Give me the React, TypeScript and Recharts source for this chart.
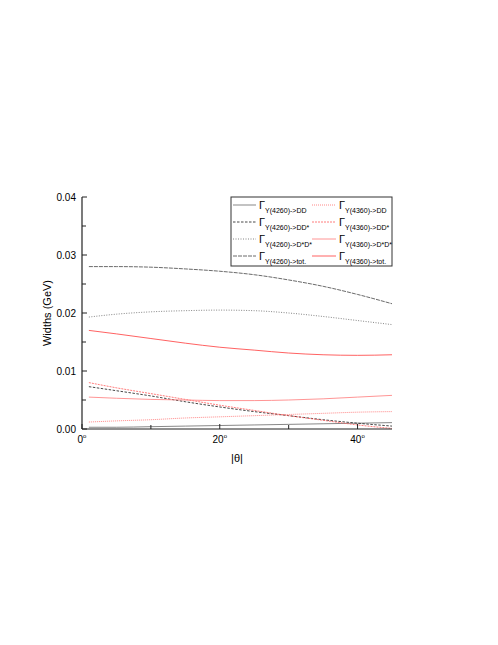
import * as React from "react"
import { LineChart, Line, XAxis, YAxis } from "recharts"

const theta = [1, 5, 10, 15, 20, 25, 30, 35, 40, 45]
const y4260DD = [0.0003, 0.0003, 0.0004, 0.0005, 0.0006, 0.0007, 0.0008, 0.0009, 0.001, 0.0011]
const y4260DDs = [0.0073, 0.0066, 0.0057, 0.0047, 0.0038, 0.003, 0.0023, 0.0016, 0.001, 0.0005]
const y4260DsDs = [0.0193, 0.0198, 0.0202, 0.0204, 0.0205, 0.0204, 0.02, 0.0194, 0.0187, 0.018]
const y4260Tot = [0.028, 0.028, 0.0279, 0.0276, 0.0272, 0.0266, 0.0257, 0.0246, 0.0232, 0.0216]
const y4360DD = [0.0012, 0.0014, 0.0016, 0.0019, 0.0021, 0.0023, 0.0025, 0.0027, 0.0029, 0.003]
const y4360DDs = [0.008, 0.0071, 0.0061, 0.0051, 0.0041, 0.0032, 0.0023, 0.0015, 0.0007, 0.0001]
const y4360DsDs = [0.0055, 0.0053, 0.0051, 0.005, 0.0049, 0.0049, 0.005, 0.0052, 0.0055, 0.0058]
const y4360Tot = [0.017, 0.0164, 0.0156, 0.0148, 0.0141, 0.0136, 0.0131, 0.0128, 0.0127, 0.0128]

const xTicks = [0, 10, 20, 30, 40]
const yTicks = [0, 0.005, 0.01, 0.015, 0.02, 0.025, 0.03, 0.035, 0.04]

const FONT = '"Liberation Sans", Arial, sans-serif'

const series = [
    { key: "a", sub: "Y(4260)->DD", color: "#555", dash: undefined, w: 0.7, values: y4260DD },
    { key: "b", sub: "Y(4260)->DD*", color: "#333", dash: "2.5 1.5", w: 0.9, values: y4260DDs },
    { key: "c", sub: "Y(4260)->D*D*", color: "#777", dash: "1 1.5", w: 0.9, values: y4260DsDs },
    { key: "d", sub: "Y(4260)->tot.", color: "#444", dash: "4 1", w: 0.8, values: y4260Tot },
    { key: "e", sub: "Y(4360)->DD", color: "#ff6a6a", dash: "1 1", w: 0.8, values: y4360DD },
    { key: "f", sub: "Y(4360)->DD*", color: "#ff5a5a", dash: "2 1", w: 0.8, values: y4360DDs },
    { key: "g", sub: "Y(4360)->D*D*", color: "#ff7a7a", dash: undefined, w: 0.8, values: y4360DsDs },
    { key: "h", sub: "Y(4360)->tot.", color: "#ff3a3a", dash: undefined, w: 0.8, values: y4360Tot },
]

const data = theta.map((t, i) => {
    const row: Record<string, number> = { t }
    series.forEach(s => { row[s.key] = s.values[i] })
    return row
})

function XTick(props: any) {
    const { x, y, payload } = props
    const major = payload.value % 20 === 0
    return (
        <g>
            <line x1={x} x2={x} y1={y} y2={y - (major ? 5 : 4)} stroke="#222" strokeWidth={1} />
            {major && (
                <text x={x} y={y + 14} textAnchor="middle" fontSize={10} fontFamily={FONT} fill="#000">
                    {payload.value}
                    <tspan fontSize={6} dy={-5}>o</tspan>
                </text>
            )}
        </g>
    )
}

function YTick(props: any) {
    const { x, y, payload } = props
    const v = payload.value
    const major = Math.abs(Math.round(v * 100) - v * 100) < 1e-6
    return (
        <g>
            <line x1={x} x2={x + (major ? 5 : 4)} y1={y} y2={y} stroke="#222" strokeWidth={1} />
            {major && (
                <text x={x - 6} y={y + 4} textAnchor="end" fontSize={10} fontFamily={FONT} fill="#000">
                    {v.toFixed(2)}
                </text>
            )}
        </g>
    )
}

function LegendBox() {
    const rows = [205, 222, 239, 256]
    const cols = [{ x1: 233, x2: 256, gx: 259 }, { x1: 312, x2: 336, gx: 339 }]
    return (
        <svg width={498} height={645} style={{ position: "absolute", left: 0, top: 0, pointerEvents: "none" }}>
            <rect x={231} y={197} width={161} height={69} fill="#fff" stroke="#333" strokeWidth={1} />
            {series.map((s, i) => {
                const c = cols[Math.floor(i / 4)]
                const ry = rows[i % 4]
                return (
                    <g key={s.key}>
                        <line x1={c.x1} x2={c.x2} y1={ry} y2={ry} stroke={s.color} strokeWidth={s.w} strokeDasharray={s.dash} />
                        <text x={c.gx} y={ry + 4} fontSize={11} fontFamily={FONT} fill="#000">
                            Γ
                            <tspan fontSize={7} dy={4}>{s.sub}</tspan>
                        </text>
                    </g>
                )
            })}
        </svg>
    )
}

export default function App() {
    return (
        <div style={{ position: "absolute", left: 0, top: 0, width: 498, height: 645, background: "#fff" }}>
            <LineChart width={498} height={645} data={data} margin={{ top: 197, right: 106, bottom: 186, left: 42 }}>
                <XAxis
                    dataKey="t"
                    type="number"
                    domain={[0, 45]}
                    ticks={xTicks}
                    tickSize={0}
                    tickMargin={0}
                    tick={<XTick />}
                    tickLine={false}
                    axisLine={{ stroke: "#222", strokeWidth: 1.2 }}
                    height={30}
                    allowDataOverflow
                />
                <XAxis xAxisId="top" orientation="top" dataKey="t" type="number" domain={[0, 45]} tick={false} tickLine={false} height={0} axisLine={{ stroke: "#222", strokeWidth: 1.2 }} />
                <YAxis
                    type="number"
                    domain={[0, 0.04]}
                    ticks={yTicks}
                    tickSize={0}
                    tickMargin={0}
                    tick={<YTick />}
                    tickLine={false}
                    width={40}
                    axisLine={{ stroke: "#222", strokeWidth: 1.2 }}
                    allowDataOverflow
                />
                <YAxis yAxisId="right" orientation="right" domain={[0, 0.04]} tick={false} tickLine={false} width={0} axisLine={{ stroke: "#222", strokeWidth: 1.2 }} />
                {series.map(s => (
                    <Line
                        key={s.key}
                        dataKey={s.key}
                        type="monotone"
                        stroke={s.color}
                        strokeWidth={s.w}
                        strokeDasharray={s.dash}
                        dot={false}
                        activeDot={false}
                        isAnimationActive={false}
                    />
                ))}
            </LineChart>
            <LegendBox />
            <div style={{ position: "absolute", left: 47, top: 313, transform: "translate(-50%, -50%) rotate(-90deg)", fontFamily: FONT, fontSize: 11, whiteSpace: "nowrap" }}>
                Widths (GeV)
            </div>
            <div style={{ position: "absolute", left: 237, top: 458, transform: "translate(-50%, -50%)", fontFamily: FONT, fontSize: 11, whiteSpace: "nowrap" }}>
                |θ|
            </div>
        </div>
    )
}
